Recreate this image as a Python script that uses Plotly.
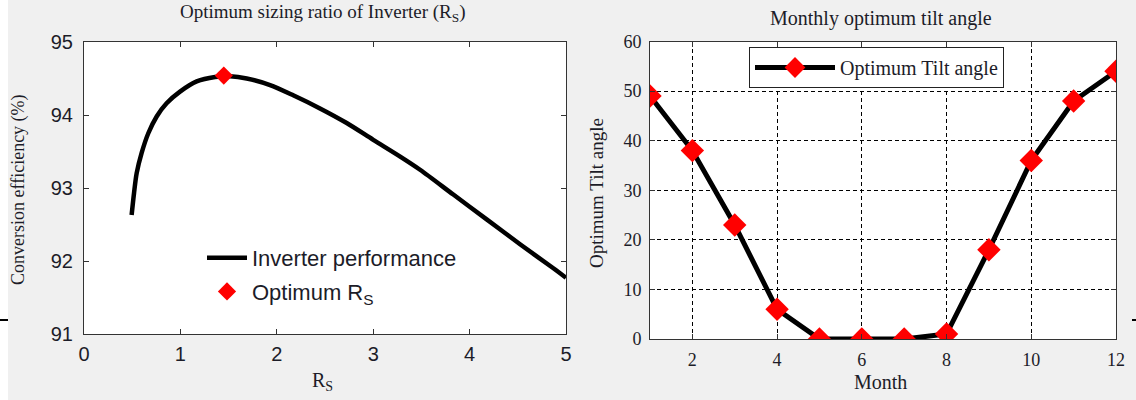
import plotly.graph_objects as go

# Left panel: inverter sizing ratio vs conversion efficiency
rs = [0.494, 0.519, 0.546, 0.598, 0.667, 0.754, 0.857, 0.996, 1.169, 1.359, 1.515,
      1.688, 1.93, 2.17, 2.448, 2.725, 3.0, 3.28, 3.486, 3.831, 4.177, 4.523, 4.869, 5.0]
eff = [92.63, 92.93, 93.2, 93.48, 93.75, 93.98, 94.16, 94.32, 94.46, 94.52, 94.53,
       94.5, 94.41, 94.27, 94.09, 93.89, 93.66, 93.43, 93.25, 92.91, 92.57, 92.23, 91.9, 91.77]
opt_rs = [1.45]
opt_eff = [94.54]

# Right panel: monthly optimum tilt angle
months = [1, 2, 3, 4, 5, 6, 7, 8, 9, 10, 11, 12]
tilt = [49, 38, 23, 6, 0, 0, 0, 1, 18, 36, 48, 54]

W, H = 1136, 400
SERIF = "Liberation Serif, Times New Roman, serif"
SANS = "Liberation Sans, Arial, sans-serif"
TXT = "#1c1c28"

def px(x):
    return x / W

def py(y):
    return 1 - y / H

fig = go.Figure()

fig.add_trace(go.Scatter(
    x=rs, y=eff, mode="lines", name="Inverter performance",
    line=dict(color="black", width=4.5, shape="spline", smoothing=0.8),
    xaxis="x", yaxis="y", legend="legend", legendgroup="a"))
fig.add_trace(go.Scatter(
    x=opt_rs, y=opt_eff, mode="markers", name="Optimum R<sub>S</sub>",
    marker=dict(symbol="diamond", color="red", size=14, line=dict(width=0)),
    xaxis="x", yaxis="y", legend="legend", legendgroup="b"))

fig.add_trace(go.Scatter(
    x=months, y=tilt, mode="lines+markers", name="Optimum Tilt angle",
    line=dict(color="black", width=5),
    marker=dict(symbol="diamond", color="red", size=18, line=dict(width=0)),
    xaxis="x2", yaxis="y2", legend="legend2"))

axis_common = dict(showline=True, linecolor="#333333", linewidth=1, mirror="ticks",
                   ticks="inside", ticklen=5, tickcolor="#333333", zeroline=False,
                   automargin=False)

fig.update_layout(
    width=W, height=H,
    margin=dict(l=0, r=0, t=0, b=0, autoexpand=False),
    paper_bgcolor="#f0f0f0",
    plot_bgcolor="white",
    xaxis=dict(domain=[px(84), px(566)], range=[0, 5], dtick=1, showgrid=False,
               tickfont=dict(family=SANS, size=20, color=TXT), anchor="y",
               ticklabelstandoff=2, **axis_common),
    yaxis=dict(domain=[py(334), py(42)], range=[91, 95], dtick=1, showgrid=False,
               tickfont=dict(family=SANS, size=20, color=TXT), anchor="x",
               ticklabelstandoff=6, **axis_common),
    xaxis2=dict(domain=[px(650), px(1116)], range=[1, 12], tickvals=[2, 4, 6, 8, 10, 12],
                showgrid=True, gridcolor="black", griddash="4px,3px", gridwidth=1,
                tickfont=dict(family=SERIF, size=18, color=TXT), anchor="y2",
                ticklabelstandoff=4, **axis_common),
    yaxis2=dict(domain=[py(339), py(41.5)], range=[0, 60], dtick=10,
                showgrid=True, gridcolor="black", griddash="4px,3px", gridwidth=1,
                tickfont=dict(family=SERIF, size=18, color=TXT), anchor="x2",
                ticklabelstandoff=4, **axis_common),
    legend=dict(x=px(202), y=py(237), xanchor="left", yanchor="top",
                bgcolor="rgba(0,0,0,0)", borderwidth=0,
                font=dict(family=SANS, size=22, color=TXT),
                traceorder="grouped", tracegroupgap=2, itemwidth=40),
    legend2=dict(x=px(749), y=py(47), xanchor="left", yanchor="top",
                 bgcolor="white", bordercolor="#222222", borderwidth=1,
                 font=dict(family=SERIF, size=20, color=TXT), itemwidth=80),
    showlegend=True,
)

annotations = [
    dict(text="Optimum sizing ratio of Inverter (R<sub>S</sub>)", x=px(322), y=py(13),
         font=dict(family=SERIF, size=19, color=TXT)),
    dict(text="Conversion efficiency (%)", x=px(18), y=py(190), textangle=-90,
         font=dict(family=SERIF, size=18, color=TXT)),
    dict(text="R<sub>S</sub>", x=px(322), y=py(381),
         font=dict(family=SERIF, size=20, color=TXT)),
    dict(text="Monthly optimum tilt angle", x=px(881), y=py(18),
         font=dict(family=SERIF, size=20, color=TXT)),
    dict(text="Optimum Tilt angle", x=px(597), y=py(193), textangle=-90,
         font=dict(family=SERIF, size=19, color=TXT)),
    dict(text="Month", x=px(880), y=py(382),
         font=dict(family=SERIF, size=20, color=TXT)),
]
for a in annotations:
    a.update(xref="paper", yref="paper", showarrow=False, xanchor="center", yanchor="middle")
fig.update_layout(annotations=annotations)

fig.update_layout(shapes=[
    dict(type="rect", xref="paper", yref="paper", x0=0, x1=px(8), y0=0, y1=1,
         fillcolor="white", line=dict(width=0), layer="below"),
    dict(type="line", xref="paper", yref="paper", x0=0, x1=px(8), y0=py(320), y1=py(320),
         line=dict(color="black", width=2)),
    dict(type="line", xref="paper", yref="paper", x0=px(1132), x1=px(1136), y0=py(320), y1=py(320),
         line=dict(color="black", width=2)),
])

fig.write_html("out.html", config={"displayModeBar": False},
               post_script="document.body.style.margin='0';")
